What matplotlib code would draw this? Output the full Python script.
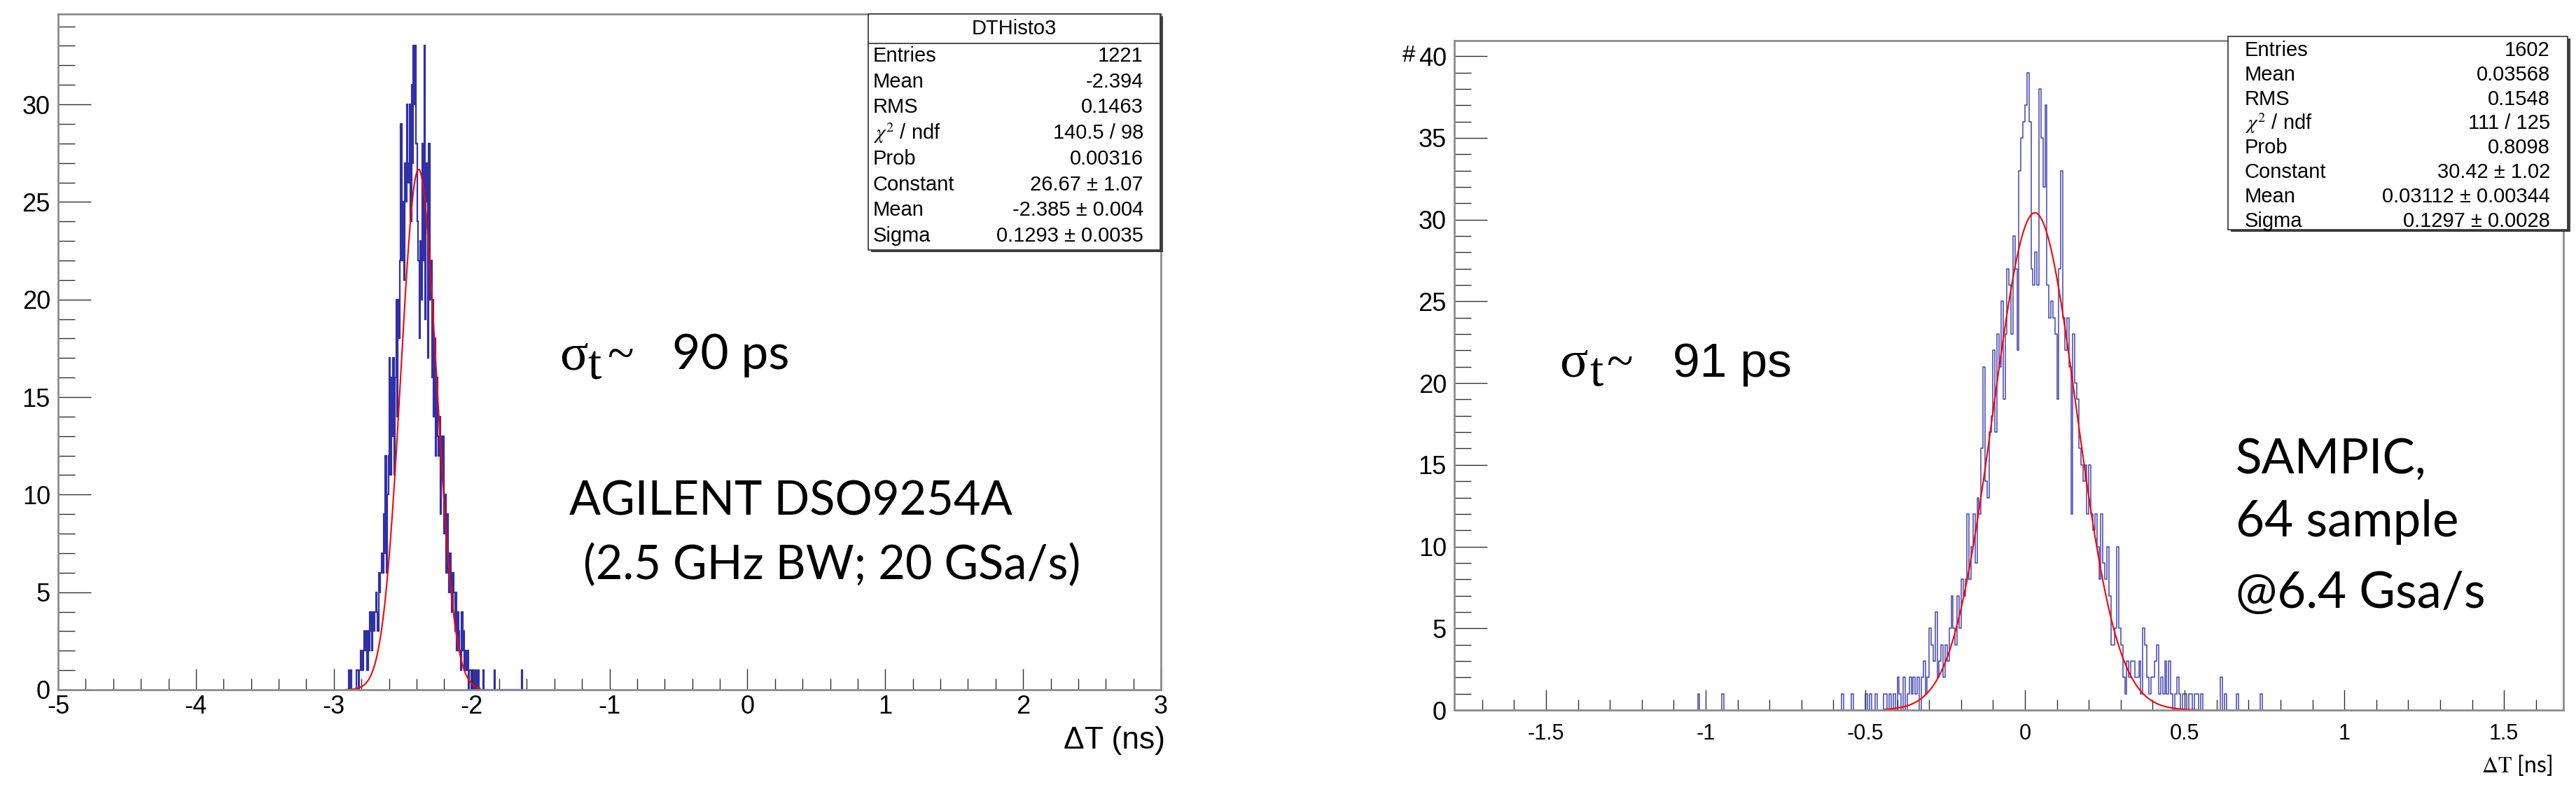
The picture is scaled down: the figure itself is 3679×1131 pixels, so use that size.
import numpy as np
import matplotlib
matplotlib.use('Agg')
import matplotlib.pyplot as plt
from matplotlib.patches import Rectangle
from matplotlib.ticker import MultipleLocator, FormatStrFormatter

plt.rcParams['axes.unicode_minus'] = False
plt.rcParams['mathtext.fontset'] = 'stix'

W, H = 3680, 1131

# ---- left panel: AGILENT scope, DT histogram ----
left_start = -2.92
left_width = 0.007
left_counts = [
    0, 0, 0, 0, 1, 0, 1, 0, 0, 0, 0, 0, 1, 1, 0, 1, 2, 2, 1, 2,
    3, 2, 3, 1, 3, 2, 4, 3, 2, 4, 3, 4, 5, 4, 3, 6, 5, 6, 7, 6,
    9, 7, 12, 6, 10, 12, 17, 11, 16, 13, 17, 11, 16, 20, 14, 20, 18, 22, 29, 22,
    25, 21, 27, 25, 30, 27, 26, 30, 24, 31, 27, 33, 30, 33, 28, 24, 22, 18, 23, 20,
    28, 22, 33, 19, 27, 25, 17, 28, 20, 22, 16, 20, 14, 18, 12, 16, 13, 12, 14, 9,
    13, 11, 13, 8, 10, 6, 9, 7, 5, 7, 6, 4, 6, 5, 3, 5, 2, 4, 3, 2,
    1, 4, 2, 3, 1, 2, 1, 2, 0, 1, 1, 0, 1, 0, 1, 0, 1, 0, 1, 0,
    0, 0, 0, 1, 0, 0, 0, 0, 0, 0, 0, 0, 0, 0, 0, 1, 0, 0, 0, 0,
    0, 0, 0, 0, 0, 0, 0, 0, 0, 0, 0, 0, 0, 0, 0, 0, 0, 0, 0, 0,
    0, 0, 0, 1, 0,
]
left_fit = (26.67, -2.385, 0.1293)      # Constant, Mean, Sigma
left_fit_range = (-2.91, -1.94)

# ---- right panel: SAMPIC ----
right_start = -0.60
right_width = 0.00625
right_counts = [
    0, 0, 0, 0, 1, 0, 0, 0,
    0, 1, 0, 0, 0, 0, 0, 0,
    1, 0, 1, 0, 0, 1, 0, 0,
    0, 1, 1, 0, 1, 0, 1, 0,
    2, 1, 0, 2, 0, 1, 2, 1,
    2, 1, 2, 0, 2, 3, 1, 2,
    5, 4, 3, 6, 2, 3, 4, 2,
    4, 3, 5, 7, 5, 4, 7, 5,
    8, 7, 8, 12, 8, 10, 12, 9,
    13, 12, 16, 21, 14, 13, 17, 18,
    22, 17, 23, 21, 25, 19, 23, 27,
    26, 23, 29, 27, 22, 33, 35, 36,
    37, 39, 36, 27, 26, 28, 26, 38,
    35, 32, 37, 26, 24, 25, 24, 23,
    19, 27, 33, 24, 22, 24, 21, 12,
    23, 20, 19, 16, 15, 14, 15, 12,
    15, 12, 11, 12, 10, 8, 12, 9,
    8, 10, 7, 4, 4, 5, 10, 5,
    4, 2, 1, 3, 2, 3, 3, 2,
    2, 3, 1, 5, 4, 2, 1, 2,
    2, 3, 4, 1, 2, 1, 3, 1,
    3, 1, 0, 1, 2, 1, 0, 1,
    1, 0, 1, 1, 0, 1, 1, 0,
    1, 0, 0, 0, 0, 0, 0, 0,
    0, 0, 2, 0, 1, 0, 0, 0,
    0, 0, 1, 0, 0, 0, 0, 0,
    0, 0, 0, 0, 0, 0, 1, 0,
]
right_outliers = [-1.025, -0.950]
right_fit = (30.42, 0.03112, 0.1297)
right_fit_range = (-0.44, 0.54)

stat_labels = ['Entries', 'Mean', 'RMS', r'$\chi^{2}$ / ndf', 'Prob', 'Constant', 'Mean', 'Sigma']
left_stat_values = ['1221', '-2.394', '0.1463', '140.5 / 98', '0.00316',
                    '26.67 ± 1.07', '-2.385 ± 0.004', '0.1293 ± 0.0035']
right_stat_values = ['1602', '0.03568', '0.1548', '111 / 125', '0.8098',
                     '30.42 ± 1.02', '0.03112 ± 0.00344', '0.1297 ± 0.0028']

HIST_BLUE = '#3030a8'
FRAME = '#8c8c8c'
SANS = 'Liberation Sans'
SERIF = 'Liberation Serif'
NOTE = 'Lato'


def fx(x):
    return x / W


def fy(y):
    return 1 - y / H


def gauss(x, c, m, s):
    return c * np.exp(-0.5 * ((x - m) / s) ** 2)


def style_axis(ax, xmaj, xmin, xlab_size, xpad, xmaj_len, xmin_len):
    for sp in ax.spines.values():
        sp.set_color(FRAME)
        sp.set_linewidth(2.0)
    ax.xaxis.set_major_locator(MultipleLocator(xmaj))
    ax.xaxis.set_minor_locator(MultipleLocator(xmin))
    ax.yaxis.set_major_locator(MultipleLocator(5))
    ax.yaxis.set_minor_locator(MultipleLocator(1))
    ax.xaxis.set_major_formatter(FormatStrFormatter('%g'))
    ax.yaxis.set_major_formatter(FormatStrFormatter('%g'))
    ax.tick_params(axis='x', which='major', direction='in', length=xmaj_len, width=1.0,
                   color='#303030', labelsize=xlab_size, pad=xpad)
    ax.tick_params(axis='x', which='minor', direction='in', length=xmin_len, width=1.0,
                   color='#303030')
    ax.tick_params(axis='y', which='major', direction='in', length=34, width=1.0,
                   color='#303030', labelsize=26, pad=8)
    ax.tick_params(axis='y', which='minor', direction='in', length=17.5, width=1.0,
                   color='#303030')
    for lab in ax.get_xticklabels() + ax.get_yticklabels():
        lab.set_fontfamily(SANS)


def stats_box(fig, x0, y0, x1, y1, labels, values, row0, row_h, lab_x, val_x, title=None, sep_y=None):
    shadow = Rectangle((fx(x0 + 4), fy(y1 + 3)), fx(x1) - fx(x0), fy(y0) - fy(y1),
                       transform=fig.transFigure, facecolor='#404040', edgecolor='none', zorder=9)
    box = Rectangle((fx(x0), fy(y1)), fx(x1) - fx(x0), fy(y0) - fy(y1),
                    transform=fig.transFigure, facecolor='white', edgecolor='#303030',
                    linewidth=1.2, zorder=10)
    fig.patches.extend([shadow, box])
    if title is not None:
        fig.text(fx((x0 + x1) / 2), fy((y0 + sep_y) / 2), title, ha='center', va='center',
                 fontsize=21, family=SANS, zorder=11)
        fig.add_artist(plt.Line2D([fx(x0), fx(x1)], [fy(sep_y), fy(sep_y)],
                                  transform=fig.transFigure, color='#303030', lw=1.2, zorder=11))
    for k, (lab, val) in enumerate(zip(labels, values)):
        yy = fy(row0 + k * row_h)
        fig.text(fx(lab_x), yy, lab, ha='left', va='center', fontsize=21, family=SANS, zorder=11)
        fig.text(fx(val_x), yy, val, ha='right', va='center', fontsize=21, family=SANS, zorder=11)


def sigma_note(fig, x, base, digits, digit_font, digit_size, t_dx, tilde_dx, text_dx):
    fig.text(fx(x), fy(base), 'σ', ha='left', va='baseline', fontsize=54, family=SERIF)
    fig.text(fx(x + t_dx), fy(base + 14), 't', ha='left', va='baseline', fontsize=50, family=SERIF)
    fig.text(fx(x + tilde_dx), fy(base), '~', ha='left', va='baseline', fontsize=50, family=SERIF)
    fig.text(fx(x + text_dx), fy(base), digits, ha='left', va='baseline',
             fontsize=digit_size, family=digit_font)


fig = plt.figure(figsize=(W / 100, H / 100), dpi=100)

# ---- left axes ----
axL = fig.add_axes([fx(83), fy(985), fx(1658) - fx(83), fy(19.5) - fy(985)])
edges = left_start + left_width * np.arange(len(left_counts) + 1)
axL.stairs(left_counts, edges, color=HIST_BLUE, linewidth=1.6)
xs = np.linspace(left_fit_range[0], left_fit_range[1], 500)
axL.plot(xs, gauss(xs, *left_fit), color='#ff0000', linewidth=1.5)
axL.set_xlim(-5, 3)
axL.set_ylim(0, 34.65)
style_axis(axL, 1, 0.2, 26, 5, 21.5, 11.5)

# ---- right axes ----
axR = fig.add_axes([fx(2077), fy(1014), fx(3661) - fx(2077), fy(58) - fy(1014)])
edges = right_start + right_width * np.arange(len(right_counts) + 1)
axR.stairs(right_counts, edges, color=HIST_BLUE, linewidth=1.1, alpha=0.9)
for xo in right_outliers:
    e0 = right_start + np.floor((xo - right_start) / right_width) * right_width
    axR.stairs([1], [e0, e0 + right_width], color=HIST_BLUE, linewidth=1.1, alpha=0.9)
xs = np.linspace(right_fit_range[0], right_fit_range[1], 500)
axR.plot(xs, gauss(xs, *right_fit), color='#ff0000', linewidth=1.5)
axR.set_xlim(-1.787, 1.686)
axR.set_ylim(0, 40.95)
style_axis(axR, 0.5, 0.1, 22, 14, 21, 11)

# axis titles
fig.text(fx(1664), fy(1058), 'ΔT (ns)', ha='right', va='center', fontsize=32, family=SANS)
fig.text(fx(3645), fy(1092), r'$\Delta\mathrm{T}$ [ns]', ha='right', va='center', fontsize=23, family=NOTE)
fig.text(fx(2021), fy(80), '#', ha='right', va='center', fontsize=24, family=SANS)

# stats boxes
stats_box(fig, 1240, 20, 1657, 357, stat_labels, left_stat_values,
          80, 36.7, 1247, 1633, title='DTHisto3', sep_y=62)
stats_box(fig, 3182, 52, 3667, 328, stat_labels, right_stat_values,
          72, 34.8, 3206, 3642)

# annotations
sigma_note(fig, 799, 527, '90 ps', NOTE, 50, 40, 68, 161)
fig.text(fx(813), fy(735), 'AGILENT DSO9254A', ha='left', va='baseline', fontsize=48, family=NOTE)
fig.text(fx(833), fy(827), '(2.5 GHz BW; 20 GSa/s)', ha='left', va='baseline', fontsize=48, family=NOTE)

sigma_note(fig, 2227, 538, '91 ps', SANS, 50, 43, 67, 162)
fig.text(fx(3193), fy(676), 'SAMPIC,', ha='left', va='baseline', fontsize=50, family=NOTE)
fig.text(fx(3193), fy(766), '64 sample', ha='left', va='baseline', fontsize=51, family=NOTE)
fig.text(fx(3193), fy(868), '@6.4 Gsa/s', ha='left', va='baseline', fontsize=51, family=NOTE)

fig.savefig('out.png', dpi=100)
